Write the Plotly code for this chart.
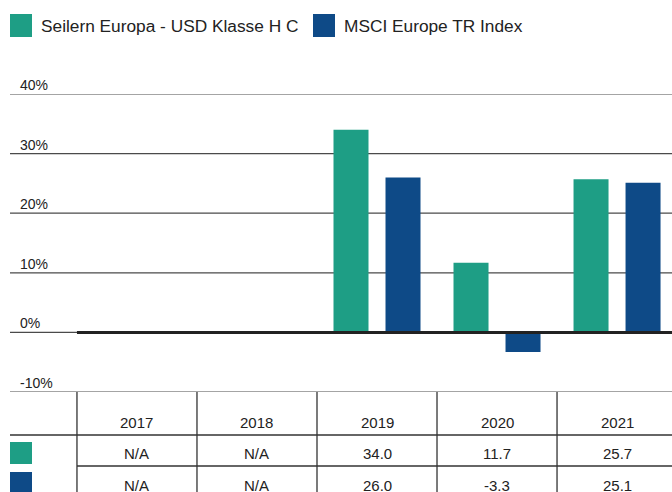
import plotly.graph_objects as go

years = ["2017", "2018", "2019", "2020", "2021"]
seilern = [None, None, 34.0, 11.7, 25.7]
msci = [None, None, 26.0, -3.3, 25.1]
seilern_labels = ["N/A", "N/A", "34.0", "11.7", "25.7"]
msci_labels = ["N/A", "N/A", "26.0", "-3.3", "25.1"]
series_names = ["Seilern Europa - USD Klasse H C", "MSCI Europe TR Index"]
yticks = [-10, 0, 10, 20, 30, 40]

GREEN = "#1e9e85"
BLUE = "#0e4a87"
FONT = "Liberation Sans, Arial, sans-serif"
TXT = "#222222"

W, H = 672, 492
L, R, T, B = 10, 0, 94, 100
PW, PH = W - L - R, H - T - B

def px(xp):
    return (xp - L) / PW

def py(yp):
    return (H - B - yp) / PH

fig = go.Figure()
fig.add_trace(go.Bar(x=years, y=seilern, name=series_names[0], marker_color=GREEN,
                     marker_line_width=0, showlegend=False))
fig.add_trace(go.Bar(x=years, y=msci, name=series_names[1], marker_color=BLUE,
                     marker_line_width=0, showlegend=False))

shapes = []
annotations = []

# gridlines + tick labels
for v in yticks:
    shapes.append(dict(type="line", xref="paper", yref="y", x0=0, x1=1, y0=v, y1=v,
                       line=dict(color="#4a4a4a", width=1.2), layer="below"))
    annotations.append(dict(xref="paper", yref="y", x=px(18), y=v, text=f"{v}%",
                            showarrow=False, xanchor="left", yanchor="bottom", yshift=-1,
                            font=dict(family=FONT, size=14, color=TXT)))
# thick zero line
shapes.append(dict(type="line", xref="x", yref="y", x0=-0.5, x1=4.5, y0=0, y1=0,
                   line=dict(color="#222222", width=3), layer="above"))

# table lines
tl = dict(color="#333333", width=1.3)
for i in range(len(years)):
    shapes.append(dict(type="line", xref="x", yref="paper", x0=i - 0.5, x1=i - 0.5,
                       y0=py(392), y1=py(495), line=tl))
shapes.append(dict(type="line", xref="paper", yref="paper", x0=0, x1=1,
                   y0=py(435), y1=py(435), line=tl))
shapes.append(dict(type="line", xref="paper", yref="paper", x0=px(77), x1=1,
                   y0=py(466), y1=py(466), line=tl))
# table legend squares
shapes.append(dict(type="rect", xref="paper", yref="paper", x0=px(10), x1=px(32),
                   y0=py(464), y1=py(442), fillcolor=GREEN, line_width=0))
shapes.append(dict(type="rect", xref="paper", yref="paper", x0=px(10), x1=px(32),
                   y0=py(494), y1=py(472), fillcolor=BLUE, line_width=0))

cell_font = dict(family=FONT, size=15, color=TXT)
for i, yr in enumerate(years):
    annotations.append(dict(xref="x", yref="paper", x=i, y=py(422), text=yr, showarrow=False,
                            xanchor="center", yanchor="middle", font=cell_font))
    annotations.append(dict(xref="x", yref="paper", x=i, y=py(453), text=seilern_labels[i],
                            showarrow=False, xanchor="center", yanchor="middle", font=cell_font))
    annotations.append(dict(xref="x", yref="paper", x=i, y=py(486), text=msci_labels[i],
                            showarrow=False, xanchor="center", yanchor="middle", font=cell_font))

# top legend
shapes.append(dict(type="rect", xref="paper", yref="paper", x0=px(10), x1=px(32),
                   y0=py(37), y1=py(14), fillcolor=GREEN, line_width=0))
shapes.append(dict(type="rect", xref="paper", yref="paper", x0=px(313), x1=px(335),
                   y0=py(37), y1=py(14), fillcolor=BLUE, line_width=0))
annotations.append(dict(xref="paper", yref="paper", x=px(39), y=py(26), text=series_names[0],
                        showarrow=False, xanchor="left", yanchor="middle",
                        font=dict(family=FONT, size=17.3, color=TXT)))
annotations.append(dict(xref="paper", yref="paper", x=px(342), y=py(26), text=series_names[1],
                        showarrow=False, xanchor="left", yanchor="middle",
                        font=dict(family=FONT, size=17.3, color=TXT)))

fig.update_layout(
    width=W, height=H,
    margin=dict(l=L, r=R, t=T, b=B, pad=0),
    paper_bgcolor="white", plot_bgcolor="white",
    barmode="group", bargap=0.1333, bargroupgap=0.327,
    xaxis=dict(type="category", range=[-1.058, 4.458], showticklabels=False,
               showgrid=False, zeroline=False, showline=False, fixedrange=True),
    yaxis=dict(range=[-10, 40], showticklabels=False, showgrid=False,
               zeroline=False, showline=False, fixedrange=True),
    shapes=shapes, annotations=annotations,
    font=dict(family=FONT, color=TXT),
)

fig.write_html("out.html")
